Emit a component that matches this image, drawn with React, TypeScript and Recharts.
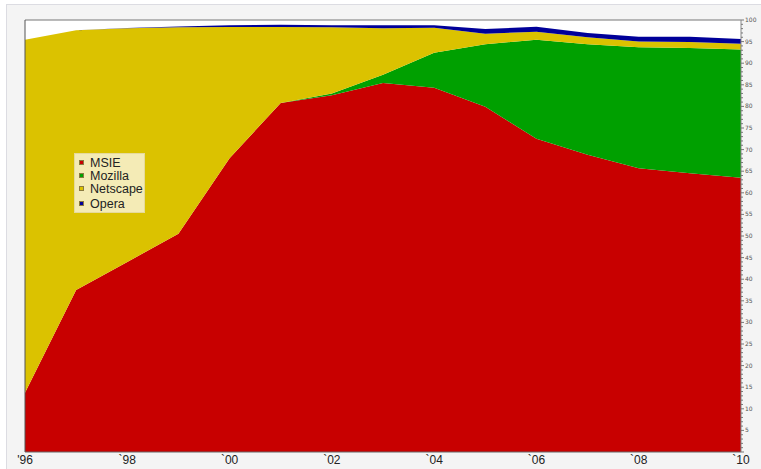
import { AreaChart, Area, XAxis, YAxis, CartesianGrid, ReferenceLine } from "recharts";

const years = [1996, 1997, 1998, 1999, 2000, 2001, 2002, 2003, 2004, 2005, 2006, 2007, 2008, 2009, 2010];
const msie = [13.7, 37.5, 44, 50.5, 68, 80.8, 82.6, 85.4, 84.3, 79.9, 72.5, 68.8, 65.7, 64.5, 63.5];
const mozilla = [0, 0, 0, 0, 0, 0, 0.4, 1.9, 8.1, 14.5, 22.9, 25.6, 28, 29, 29.7];
const netscape = [81.7, 60.1, 54.1, 47.8, 30.4, 17.6, 15.3, 10.8, 5.8, 2.4, 1.9, 1.6, 1.3, 1.4, 1.3];
const opera = [0, 0, 0.05, 0.2, 0.4, 0.5, 0.5, 0.7, 0.6, 1.1, 1.15, 1.0, 1.1, 1.2, 1.1];

const xTicks = [1996, 1998, 2000, 2002, 2004, 2006, 2008, 2010];
const xLabels = ["'96", "`98", "`00", "`02", "`04", "`06", "`08", "`10"];
const yTicks = Array.from({ length: 101 }, (_, i) => i);

const series = [
  { key: "MSIE", color: "#c80000", values: msie },
  { key: "Mozilla", color: "#00a000", values: mozilla },
  { key: "Netscape", color: "#dbc200", values: netscape },
  { key: "Opera", color: "#000099", values: opera },
];

const data = years.map((year, i) => {
  const row: Record<string, number> = { year };
  series.forEach((s) => (row[s.key] = s.values[i]));
  return row;
});

function RightTick(props: any) {
  const { x, y, payload } = props;
  const v = payload.value;
  const major = v % 5 === 0;
  return (
    <g>
      <line x1={x} x2={x + (major ? 3 : 2)} y1={y} y2={y} stroke="#777" strokeWidth={1} />
      {major && v > 0 && (
        <text x={x + 4} y={y + 2} fontSize={6} fill="#555" fontFamily="'DejaVu Sans', sans-serif">
          {v}
        </text>
      )}
    </g>
  );
}

export default function App() {
  return (
    <div style={{ position: "absolute", left: 0, top: 0, width: 761, height: 469, background: "#fff" }}>
      <div
        style={{
          position: "absolute",
          left: 6,
          top: 4,
          right: 0,
          bottom: 0,
          background: "#f4f4f4",
          borderLeft: "1px solid #dcdce2",
          borderTop: "1px solid #dcdce2",
        }}
      />
      <div style={{ position: "absolute", left: 0, top: 0 }}>
        <AreaChart width={761} height={469} data={data} margin={{ top: 20, left: 25, right: 0, bottom: 0 }}>
          <CartesianGrid horizontal={false} vertical={false} fill="#ffffff" />
          <XAxis
            dataKey="year"
            type="number"
            domain={[1996, 2010]}
            ticks={xTicks}
            tickFormatter={(v: number) => xLabels[xTicks.indexOf(v)]}
            height={17}
            tickLine={false}
            tickSize={0}
            tickMargin={3}
            axisLine={{ stroke: "#666" }}
            tick={{ fill: "#222", fontSize: 12, fontFamily: "'Liberation Sans', Arial, sans-serif" }}
            interval={0}
          />
          <YAxis
            orientation="right"
            domain={[0, 100]}
            ticks={yTicks}
            interval={0}
            width={20}
            tickLine={false}
            tickSize={0}
            tickMargin={0}
            axisLine={{ stroke: "#888" }}
            tick={<RightTick />}
          />
          {series.map((s) => (
            <Area
              key={s.key}
              type="linear"
              dataKey={s.key}
              stackId="1"
              stroke="none"
              fill={s.color}
              fillOpacity={1}
              isAnimationActive={false}
            />
          ))}
          <ReferenceLine y={100} stroke="#777" />
          <ReferenceLine x={1996} stroke="#555" />
        </AreaChart>
      </div>
      <div
        style={{
          position: "absolute",
          left: 74,
          top: 153,
          width: 71,
          height: 60,
          boxSizing: "border-box",
          background: "#f4ebb6",
          border: "1px solid #e6da9c",
          fontFamily: "'Liberation Sans', Arial, sans-serif",
          fontSize: 12.5,
          color: "#222",
        }}
      >
        {series.map((s, i) => (
          <div
            key={s.key}
            style={{
              position: "absolute",
              left: 4,
              top: [2, 15, 28, 43][i],
              height: 14,
              lineHeight: "14px",
              whiteSpace: "nowrap",
            }}
          >
            <span
              style={{
                display: "inline-block",
                width: 3,
                height: 3,
                background: s.color,
                border: "1px solid #8a7a40",
                marginRight: 6,
                verticalAlign: "middle",
                position: "relative",
                top: -1,
              }}
            />
            {s.key}
          </div>
        ))}
      </div>
    </div>
  );
}
